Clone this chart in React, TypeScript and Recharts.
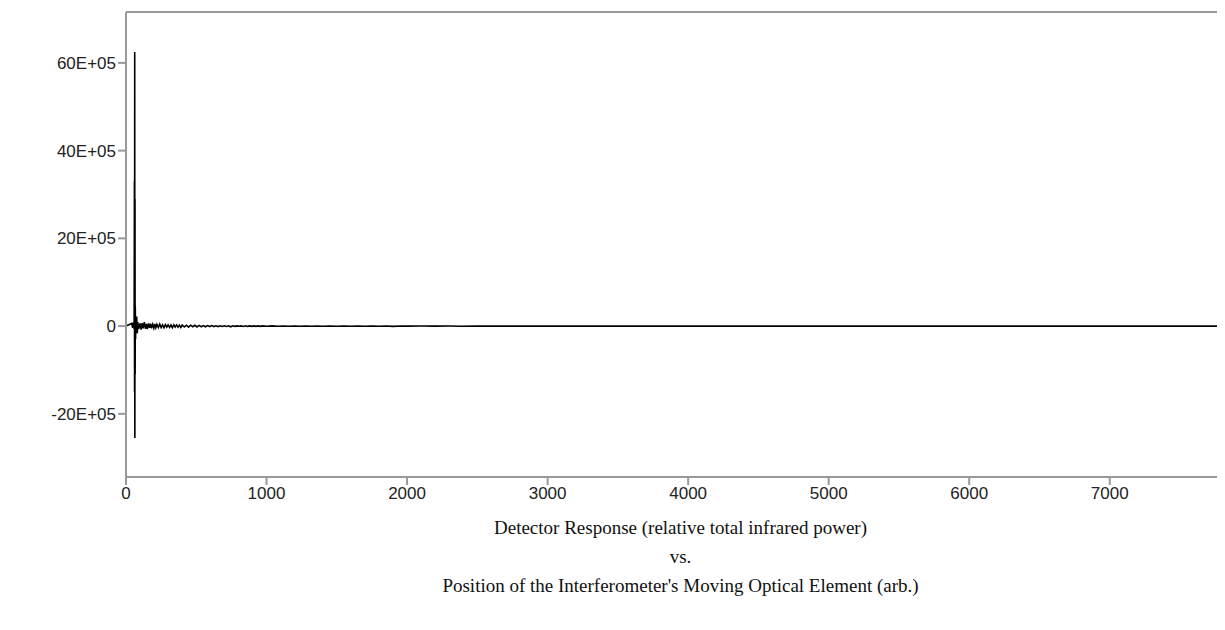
import React from "react";
import { LineChart, Line, XAxis, YAxis, ReferenceLine } from "recharts";

const positions = [
  0, 20, 40, 48, 52, 56, 58, 60, 61, 62, 63, 64, 65, 66, 68, 70, 72, 76, 80, 84, 90,
  100, 108, 115, 122, 130, 138, 145, 152, 160, 168, 175, 182, 190, 198, 205, 212, 220, 230, 240, 250, 260, 270, 280, 290, 300, 310, 320, 330, 340, 350, 360, 370, 380, 390, 400,
  415, 430, 445, 460, 475, 490, 505, 520, 535, 550, 565, 580, 595, 610, 625, 640, 655, 670, 685, 700, 715, 730, 745, 760, 775, 790, 805, 820, 835, 850, 865, 880, 895, 910, 925, 940, 955, 970,
  1000, 1040, 1080, 1120, 1160, 1200, 1240, 1280, 1320, 1360, 1400, 1450, 1500, 1550, 1600,
  1650, 1700, 1750, 1800, 1850, 1900, 1950, 2000, 2100, 2200, 2300, 2380, 2500, 3000, 4000,
  5000, 6000, 7000, 7820,
];
const response = [
  0, 30000, 60000, -40000, 80000, -60000, 120000, 3300000, -1500000, 6250000, -2550000, 2900000, -1100000, 450000, -300000, 180000, -140000, 220000, -160000, 90000, -70000,
  60000, -80000, 70000, -50000, 90000, -60000, 50000, -70000, 60000, -40000, 55000, -50000, 40000, -45000, 50000, -35000, 40000, -30000, 45000, -35000, 30000, -40000, 35000, -25000, 30000, -30000, 25000, -35000, 30000, -20000, 25000, -25000, 20000, -30000, 25000,
  -20000, 20000, -25000, 20000, -15000, 18000, -20000, 15000, -15000, 12000, -15000, 12000, -10000, 12000, -10000, 8000, -10000, 8000, -8000, 6000, -8000, 6000, -15000, 6000, -5000, 5000, -4000, 4000, -8000, 6000, -7000, 5000, -6000, 5000, -5000, 4000, -5000, 4000,
  -5000, 4000, -4000, 3000, -4000, 3000, -3000, 3000, -3000, 2500, -3000, 2500, -2000, 2000, -2000,
  2000, -2000, 1500, -2000, 1500, -6000, 1500, -1000, 1000, -1000, 1000, -3000, 0, 0, 0,
  0, 0, 0, 0,
];
const xTicks = [0, 1000, 2000, 3000, 4000, 5000, 6000, 7000];
const yTicks = [-2000000, 0, 2000000, 4000000, 6000000];
const titleLines = [
  "Detector Response (relative total infrared power)",
  "vs.",
  "Position of the Interferometer's Moving Optical Element (arb.)",
];

const data = positions.map((p, i) => ({ p, v: response[i] }));
const fmtY = (v: number) => (v === 0 ? "0" : `${v / 100000}E+05`);

export default function App() {
  return (
    <div style={{ position: "relative", margin: -8, width: 1225, height: 630, background: "#fff" }}>
      <LineChart width={1225} height={630} data={data} margin={{ top: 12, right: 0, bottom: 113, left: 0 }}>
        <XAxis
          dataKey="p"
          type="number"
          domain={[0, 7820]}
          ticks={xTicks}
          tickSize={8}
          stroke="#999"
          strokeWidth={2}
          tick={{ fill: "#222", fontSize: 17, fontFamily: "Liberation Sans Narrow, Liberation Sans, Arial" }}
          height={40}
        />
        <YAxis
          type="number"
          domain={[-3440000, 7160000]}
          ticks={yTicks}
          tickFormatter={fmtY}
          width={126}
          tickSize={8}
          stroke="#999"
          strokeWidth={2}
          tick={{ fill: "#222", fontSize: 17, fontFamily: "Liberation Sans, Arial" }}
        />
        <ReferenceLine y={7160000} stroke="#999" strokeWidth={2} />
        <Line dataKey="v" type="linear" stroke="#000" strokeWidth={1.6} dot={false} isAnimationActive={false} />
      </LineChart>
      {titleLines.map((t, i) => (
        <div
          key={i}
          style={{
            position: "absolute",
            left: 126,
            width: 1109,
            top: 517 + i * 29,
            textAlign: "center",
            fontFamily: "Liberation Serif, Times New Roman, serif",
            fontSize: 19,
            color: "#111",
          }}
        >
          {t}
        </div>
      ))}
    </div>
  );
}
